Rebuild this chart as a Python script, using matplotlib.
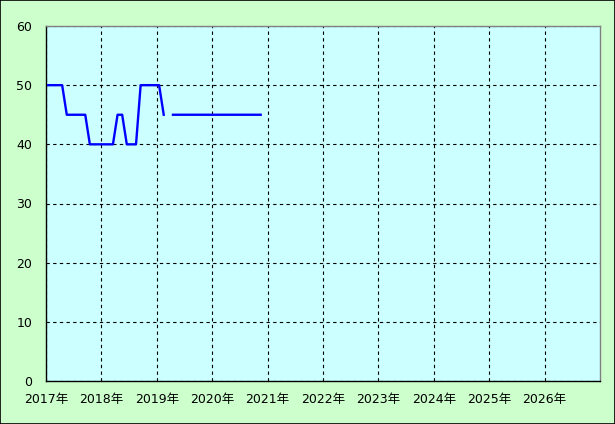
import matplotlib
matplotlib.use('Agg')
import matplotlib.pyplot as plt
import matplotlib.patches as mpatches
import numpy as np

# monthly values, Jan 2017 .. Nov 2020 (None = no data)
values = [50, 50, 50, 50,
          45, 45, 45, 45, 45,
          40, 40, 40, 40, 40, 40,
          45, 45,
          40, 40, 40,
          50, 50, 50, 50, 50,
          45, None,
          45, 45, 45, 45, 45, 45, 45, 45, 45, 45,
          45, 45, 45, 45, 45, 45, 45, 45, 45, 45]
start_year = 2017
years = list(range(2017, 2027))
year_labels = [f'{y}年' for y in years]
y_ticks = [0, 10, 20, 30, 40, 50, 60]

_FIG_BG = '#CCFFCC'
_AX_BG = '#CCFFFF'
_LINE = '#0000FF'

plt.rcParams['font.family'] = ['DejaVu Sans', 'Noto Sans CJK JP']

x = np.array([start_year + (m + 0.5) / 12 for m in range(len(values))])
y = np.array([np.nan if v is None else v for v in values], dtype=float)

fig = plt.figure(figsize=(6.15, 4.24), dpi=100)
fig.patch.set_facecolor(_FIG_BG)
W, H = 615, 424
ax = fig.add_axes([46 / W, (H - 381) / H, (600 - 46) / W, (381 - 26) / H])
ax.set_facecolor(_AX_BG)

ax.plot(x, y, color=_LINE, linewidth=1.7, zorder=3)

ax.set_xlim(2017, 2027)
ax.set_ylim(0, 60)
ax.set_xticks(years)
ax.set_xticklabels(year_labels)
ax.set_yticks(y_ticks)
ax.tick_params(axis='both', length=0, labelsize=9, colors='black')
ax.tick_params(axis='y', pad=10)
ax.tick_params(axis='x', pad=9)

ax.grid(True, color='black', linestyle=(0, (3, 3)), linewidth=0.8, zorder=1)
ax.set_axisbelow(True)

ax.spines['left'].set_color('black')
ax.spines['bottom'].set_color('black')
ax.spines['top'].set_color('#808080')
ax.spines['right'].set_color('#808080')
for sp in ax.spines.values():
    sp.set_linewidth(1.0)

# outer frame
fig.patches.append(mpatches.Rectangle((0, 0), 1, 1, transform=fig.transFigure,
                                      fill=False, edgecolor='black', linewidth=1.2))

fig.savefig('out.png', dpi=100, facecolor=_FIG_BG)
